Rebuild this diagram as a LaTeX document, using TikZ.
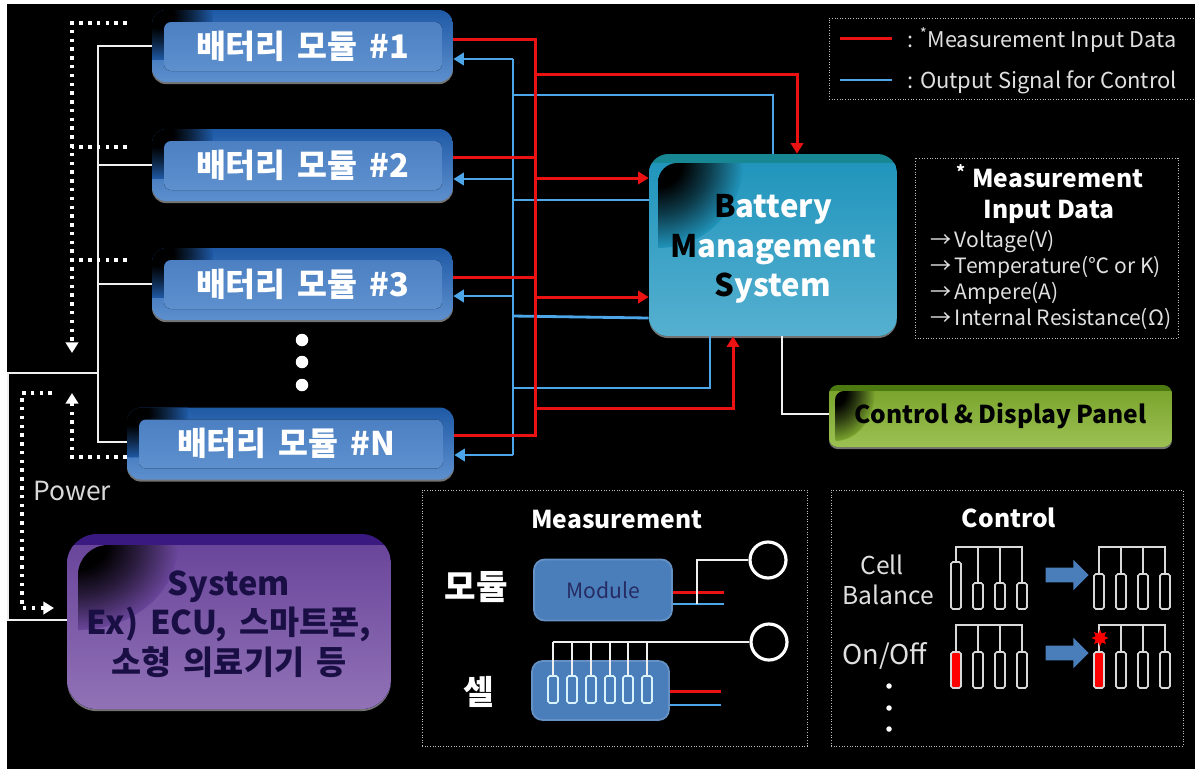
\documentclass[tikz,border=0pt]{standalone}
\usepackage{fontspec}
\setmainfont{Noto Sans CJK KR}
\newfontfamily\modfont[WordSpace=1.6]{Noto Sans CJK KR}
\usepackage{tikz}
\usetikzlibrary{arrows.meta,calc,shadows,shapes.geometric,shapes.arrows}

\definecolor{modEdge}{HTML}{1F5AA6}
\definecolor{modTop}{HTML}{4C80C2}
\definecolor{modBot}{HTML}{5E90CE}
\definecolor{bmsEdge}{HTML}{178794}
\definecolor{bmsTop}{HTML}{2195BC}
\definecolor{bmsBot}{HTML}{56B0D0}
\definecolor{sysEdge}{HTML}{3A1A80}
\definecolor{sysTop}{HTML}{6A469B}
\definecolor{sysBot}{HTML}{9172B6}
\definecolor{panEdge}{HTML}{4C7A10}
\definecolor{panTop}{HTML}{7BA52E}
\definecolor{panBot}{HTML}{9CC153}
\definecolor{sigRed}{HTML}{EA1212}
\definecolor{sigBlue}{HTML}{4CA6E8}
\definecolor{flatBlue}{HTML}{4A7EBB}
\definecolor{sysText}{HTML}{1A0F45}

\makeatletter
\pgfdeclareradialshading[tikz@ball]{cornerglow}{\pgfpoint{0bp}{0bp}}{%
  color(0bp)=(black); color(7bp)=(black); color(15bp)=(black!60!tikz@ball);
  color(25bp)=(tikz@ball); color(50bp)=(tikz@ball)}
\makeatother

\tikzset{
  softedge/.style={drop shadow={shadow xshift=0pt,shadow yshift=-1.2pt,fill=white,opacity=.45}},
  gloss/.style n args={6}{
    fill=#1, inner sep=0pt, softedge,
    path picture={
      \coordinate (nw) at (path picture bounding box.north west);
      \coordinate (se) at (path picture bounding box.south east);
      \fill[top color=#2,bottom color=#3,sharp corners] ($(nw)+(0,#4)$) rectangle (se);
      \begin{scope}
        \clip ($(nw)+(#4,#4)$) rectangle (se);
        \shade[ball color=#2,shading=cornerglow,sharp corners] ($(nw)+(#4,#4)$) ellipse [x radius=#5, y radius=#6];
      \end{scope}
    }},
  modbox/.style={top color=modEdge, bottom color=modBot, inner sep=0pt, softedge, rounded corners=8pt,
    minimum height=1.44cm, text=white,
    font=\modfont\fontsize{18.5}{22}\selectfont\bfseries,
    path picture={
      \coordinate (nw) at (path picture bounding box.north west);
      \coordinate (se) at (path picture bounding box.south east);
      \shade[ball color=modEdge,shading=cornerglow,sharp corners] ($(nw)+(6,5)$) ellipse [x radius=55, y radius=45];
      \fill[top color=modTop,bottom color=modBot,rounded corners=4pt] ($(nw)+(12,12)$) rectangle ($(se)+(-11,-11)$);
    }},
  framebox/.style={draw=white!75!black, line width=.5pt, densely dotted, inner sep=0pt},
  titletext/.style={text=white, font=\fontsize{14}{17}\selectfont\bfseries},
  listtext/.style={text=white!88!black, anchor=west, inner sep=0pt, font=\fontsize{12}{14}\selectfont},
  flatbox/.style={fill=flatBlue, draw=flatBlue!85!white, line width=1pt, rounded corners=6pt, inner sep=0pt},
  ring/.style={circle, draw=white, line width=1.8pt, minimum size=.72cm, inner sep=0pt},
  wire/.style={draw=white!94!black, line width=1.6pt},
  redline/.style={draw=sigRed, line width=1.7pt},
  blueline/.style={draw=sigBlue, line width=1.6pt},
  redarrow/.style={redline, -{Triangle[length=6pt,width=7pt]}},
  bluearrow/.style={blueline, -{Triangle[length=6pt,width=7pt]}},
  dotline/.style={draw=white, line width=2pt, dash pattern=on 2pt off 3pt},
  dotarrow/.style={dotline, -{Triangle[length=6pt,width=7pt]}},
  cellline/.style={draw=white!85!black, line width=.9pt},
  blockarrow/.style={single arrow, fill=flatBlue, inner sep=0pt, text height=.28cm, text depth=0pt,
    minimum height=.86cm, single arrow head extend=.16cm},
  bigdot/.style={circle, fill=white, inner sep=0pt, minimum size=.25cm},
  smalldot/.style={circle, fill=white, inner sep=0pt, minimum size=.11cm}
}

\begin{document}
\begin{tikzpicture}[x=0.02cm,y=-0.02cm]
    \useasboundingbox (0,0) rectangle (1195,769);
    \fill[white] (0,0) rectangle (1195,769);
    \fill[black] (7,4) rectangle (1195,769);

    % Battery modules
    \node[modbox, minimum width=6.02cm] (mod1) at (302.5,46) {배터리 모듈 \#1};
    \node[modbox, minimum width=6.02cm] (mod2) at (302.5,165) {배터리 모듈 \#2};
    \node[modbox, minimum width=6.02cm] (mod3) at (302.5,284) {배터리 모듈 \#3};
    \node[modbox, minimum width=6.54cm] (modN) at (290.5,443.5) {\hspace*{-.18cm}배터리 모듈 \#N};
    \node[bigdot] (dotA) at (302,340) {};
    \node[bigdot] (dotB) at (302,362) {};
    \node[bigdot] (dotC) at (302,385) {};

    % Main boxes
    \node[gloss={bmsEdge}{bmsTop}{bmsBot}{9}{85}{85}, rounded corners=11pt, minimum width=4.96cm,
      minimum height=3.64cm] (bms) at (773,245) {};
    \node[align=center, text=white, font=\fontsize{17.7}{22.4}\selectfont\bfseries] (bmstext) at (773,249)
      {\textcolor{black}{B}attery\\\textcolor{black}{M}anagement\\\textcolor{black}{S}ystem};
    \node[gloss={panEdge}{panTop}{panBot}{6}{40}{50}, rounded corners=5pt, minimum width=6.86cm,
      minimum height=1.24cm, text=black, font=\fontsize{14}{18}\selectfont\bfseries] (panel) at (1000.5,416)
      {Control \& Display Panel};
    \node[gloss={sysEdge}{sysTop}{sysBot}{11}{100}{85}, rounded corners=17pt, minimum width=6.48cm,
      minimum height=3.5cm] (sys) at (229,621.5) {};
    \node[align=center, text=sysText, font=\modfont\fontsize{18.6}{22.4}\selectfont\bfseries] (systext) at (229,624)
      {System\\Ex) ECU, 스마트폰,\\소형 의료기기 등};

    % Red signal lines
    \coordinate (rbus1) at (535,39);
    \coordinate (rbus2) at (535,157);
    \coordinate (rbus3) at (535,277);
    \coordinate (rbusN) at (535,435);
    \coordinate (rtap1) at (535,74);
    \coordinate (rtap2) at (535,178);
    \coordinate (rtap3) at (535,297);
    \coordinate (rtap4) at (535,408);
    % Blue signal lines
    \coordinate (bbus1) at (513,59);
    \coordinate (bbus2) at (513,179);
    \coordinate (bbus3) at (513,296);
    \coordinate (bbusN) at (513,455);
    \coordinate (btap1) at (513,95);
    \coordinate (btap2) at (513,200);
    \coordinate (btap3) at (513,316);
    \coordinate (btap4) at (513,388);

    \draw[blueline] (bbus1) -- (bbusN);
    \draw[bluearrow] (bbus1) -- (mod1.east |- bbus1);
    \draw[bluearrow] (bbus2) -- (mod2.east |- bbus2);
    \draw[bluearrow] (bbus3) -- (mod3.east |- bbus3);
    \draw[bluearrow] (bbusN) -- (modN.east |- bbusN);
    \draw[blueline] (btap1) -| (773,0 |- bms.north);
    \draw[blueline] (btap2) -- (bms.west |- btap2);
    \draw[blueline] (btap3) -- (bms.west |- 0,318);
    \draw[blueline] (btap4) -| (710,0 |- bms.south);

    \draw[redline] (mod1.east |- rbus1) -- (rbus1) -- (rbusN) -- (modN.east |- rbusN);
    \draw[redline] (mod2.east |- rbus2) -- (rbus2);
    \draw[redline] (mod3.east |- rbus3) -- (rbus3);
    \draw[redarrow] (rtap1) -| (797,0 |- bms.north);
    \draw[redarrow] (rtap2) -- (bms.west |- rtap2);
    \draw[redarrow] (rtap3) -- (bms.west |- rtap3);
    \draw[redarrow] (rtap4) -| (733,0 |- bms.south);

    \coordinate (panelElbow) at (782,414);
    \draw[wire] (782,0 |- bms.south) -- (panelElbow) -- (panel.west |- panelElbow);

    % Power lines
    \coordinate (pwrTop) at (98,46);
    \coordinate (pwrJoin) at (98,373);
    \coordinate (pwrBot) at (98,442);
    \coordinate (pwrLeft) at (8,373);
    \coordinate (pwrLow) at (8,620);
    \draw[wire] (mod1.west |- pwrTop) -- (pwrTop) -- (pwrBot) -- (modN.west |- pwrBot);
    \draw[wire] (mod2.west) -- (mod2.west -| pwrTop);
    \draw[wire] (mod3.west) -- (mod3.west -| pwrTop);
    \draw[wire] (pwrJoin) -- (pwrLeft) -- (pwrLow) -- (sys.west |- pwrLow);

    % Dotted return lines
    \coordinate (dotTop) at (72,23);
    \coordinate (dotEnd) at (72,353);
    \coordinate (dotLow) at (72,457);
    \coordinate (dotUp) at (72,393);
    \coordinate (dotBeg) at (52,393);
    \coordinate (dotCorner) at (22,393);
    \coordinate (dotFoot) at (22,608);
    \coordinate (dotTip) at (54,608);
    \draw[dotarrow] (modN.west |- dotTop) -- (dotTop) -- (dotEnd);
    \draw[dotline] (modN.west |- 0,147) -- (72,147);
    \draw[dotline] (modN.west |- 0,260) -- (72,260);
    \draw[dotarrow] (modN.west |- dotLow) -- (dotLow) -- (dotUp);
    \draw[dotarrow] (dotBeg) -- (dotCorner) -- (dotFoot) -- (dotTip);
    \node[text=white!85!black, font=\fontsize{15}{17}\selectfont] (power) at (72,491) {Power};

    % Legend
    \node[framebox, minimum width=7.32cm, minimum height=1.62cm] (legend) at (1012,58.5) {};
    \coordinate (legR) at (840,38);
    \coordinate (legB) at (840,80);
    \draw[redline] (legR) -- ++(52,0);
    \draw[blueline] (legB) -- ++(52,0);
    \node[listtext, font=\fontsize{12.3}{15}\selectfont] (legRtxt) at (907,40) {: \textsuperscript{*}Measurement Input Data};
    \node[listtext, font=\fontsize{12.5}{15}\selectfont] (legBtxt) at (907,82) {: Output Signal for Control};

    % Measurement input data list
    \node[framebox, minimum width=5.26cm, minimum height=3.6cm] (datalist) at (1046.5,248) {};
    \node[titletext] (datatitleA) at (1050,176) {\textsuperscript{*} Measurement};
    \node[titletext] (datatitleB) at (1049,212) {Input Data};
    \node[listtext] (dataA) at (930,241) {→\,Voltage(V)};
    \node[listtext] (dataB) at (930,267) {→\,Temperature(℃ or K)};
    \node[listtext] (dataC) at (930,293) {→\,Ampere(A)};
    \node[listtext] (dataD) at (930,319) {→\,Internal Resistance(Ω)};

    % Measurement panel
    \node[framebox, minimum width=7.7cm, minimum height=5.12cm] (meas) at (614.5,618) {};
    \node[titletext] (meastitle) at (617,519) {Measurement};
    \node[titletext, font=\fontsize{19.5}{22}\selectfont\bfseries] (modlabel) at (476,587) {모듈};
    \node[titletext, font=\fontsize{19}{22}\selectfont\bfseries] (celllabel) at (479,692) {셀};
    \node[flatbox, minimum width=2.76cm, minimum height=1.22cm, text=sysText!75!flatBlue,
      font=\fontsize{12}{14}\selectfont] (modflat) at (603,590) {Module};
    \node[flatbox, minimum width=2.74cm, minimum height=1.18cm] (cellflat) at (600.5,690.5) {};
    \node[ring] (ring1) at (768,560) {};
    \node[ring] (ring2) at (769,642) {};
    \coordinate (modR) at (724,592);
    \coordinate (modB) at (724,604);
    \coordinate (modTap) at (697,604);
    \coordinate (cellR) at (721,691);
    \coordinate (cellB) at (721,705);
    \coordinate (cellRail) at (553,642);
    \draw[redline] (modflat.east |- modR) -- (modR);
    \draw[blueline] (modflat.east |- modB) -- (modB);
    \draw[wire] (modTap) |- (ring1);
    \draw[redline] (cellflat.east |- cellR) -- (cellR);
    \draw[blueline] (cellflat.east |- cellB) -- (cellB);
    \draw[wire] (ring2) -- (cellRail);
    \draw[wire] (553,642) -- (553,676) (572,642) -- (572,676) (591,642) -- (591,676)
      (610,642) -- (610,676) (628,642) -- (628,676) (647,642) -- (647,676);
    \draw[draw=cyan!15!white, line width=.9pt, rounded corners=1pt] (548,676) rectangle (558,703)
      (567,676) rectangle (577,703) (586,676) rectangle (596,703) (605,676) rectangle (615,703)
      (623,676) rectangle (633,703) (642,676) rectangle (652,703);

    % Control panel
    \node[framebox, minimum width=7.04cm, minimum height=5.12cm] (ctrl) at (1007,618) {};
    \node[titletext] (ctrltitle) at (1009,518) {Control};
    \node[listtext, anchor=center, font=\fontsize{14}{17}\selectfont] (ctrlA) at (882,565) {Cell};
    \node[listtext, anchor=center, font=\fontsize{14}{17}\selectfont] (ctrlB) at (888,595) {Balance};
    \node[listtext, anchor=center, font=\fontsize{15.5}{17}\selectfont] (ctrlC) at (885,656) {On/Off};
    \node[smalldot] (ctrlD) at (889,686) {};
    \node[smalldot] (ctrlE) at (889,708) {};
    \node[smalldot] (ctrlF) at (889,729) {};
    \node[blockarrow] (arrowA) at (1063.5,575) {};
    \node[blockarrow] (arrowB) at (1063.5,653) {};

    % Cell balance row
    \draw[cellline] (956,562) -- (956,547) -- (1022,547) -- (1022,583) (978,547) -- (978,583) (1000,547) -- (1000,583);
    \draw[cellline, rounded corners=1pt] (951,562) rectangle (961,609) (973,583) rectangle (983,609)
      (995,583) rectangle (1005,609) (1017,583) rectangle (1027,609);
    \draw[cellline] (1099,574) -- (1099,547) -- (1165,547) -- (1165,574) (1121,547) -- (1121,574) (1143,547) -- (1143,574);
    \draw[cellline, rounded corners=1pt] (1094,574) rectangle (1104,609) (1116,574) rectangle (1126,609)
      (1138,574) rectangle (1148,609) (1160,574) rectangle (1170,609);

    % On/Off row
    \draw[cellline] (956,652) -- (956,625) -- (1022,625) -- (1022,652) (978,625) -- (978,652) (1000,625) -- (1000,652);
    \draw[cellline, rounded corners=1pt] (973,652) rectangle (983,688) (995,652) rectangle (1005,688) (1017,652) rectangle (1027,688);
    \draw[cellline, fill=red, rounded corners=1pt] (951,652) rectangle (961,688);
    \draw[cellline] (1099,652) -- (1099,625) -- (1165,625) -- (1165,652) (1121,625) -- (1121,652) (1143,625) -- (1143,652);
    \draw[cellline, rounded corners=1pt] (1116,652) rectangle (1126,688) (1138,652) rectangle (1148,688) (1160,652) rectangle (1170,688);
    \draw[cellline, fill=red, rounded corners=1pt] (1094,652) rectangle (1104,688);
    \node[star, star points=8, star point ratio=1.8, fill=red, inner sep=0pt, minimum size=.34cm] (cutmark) at (1100,638) {};
\end{tikzpicture}
\end{document}
